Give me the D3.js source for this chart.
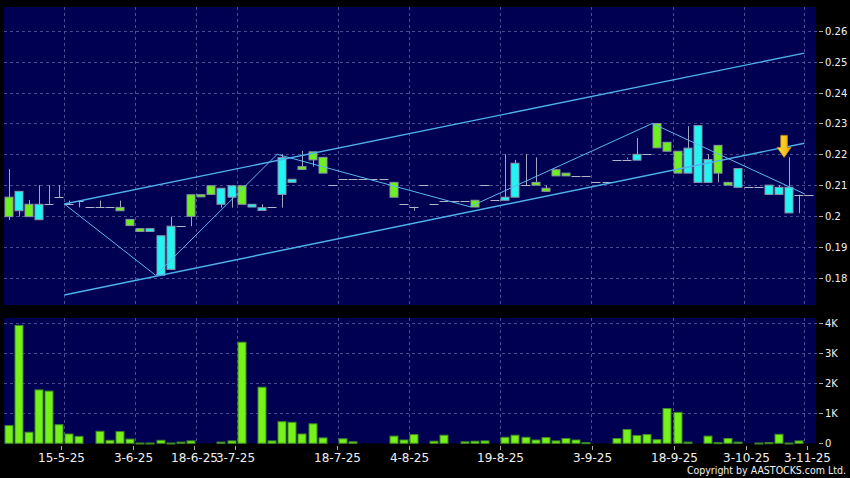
<!DOCTYPE html>
<html><head><meta charset="utf-8">
<script src="https://cdn.jsdelivr.net/npm/d3@7"></script>
<style>body{margin:0;background:#000;overflow:hidden}svg{display:block}</style>
</head><body>
<script>
// ---------------- data ----------------
const tickLabels = ["15-5-25","3-6-25","18-6-25","3-7-25","18-7-25","4-8-25","19-8-25","3-9-25","18-9-25","3-10-25","3-11-25"];
const tickIndex  = [6,13,19,23,33,40,49,58,66,73,79];

const opens = [
.2061,.2017,.2038,.1988,.2039,.2061,.2039,.2050,.2028,.2028,
.2028,.2028,.1989,.1959,.1950,.1808,.1827,.1967,.2069,.2069,
.2098,.2038,.2061,.2098,.2029,.2018,.2029,.2070,.2109,.2160,
.2208,.2190,.2101,.2119,.2119,.2119,.2119,.2119,.2109,.2039,
.2030,.2100,.2039,.2050,.2050,.2050,.2051,.2100,.2052,.2051,
.2061,.2100,.2109,.2090,.2150,.2139,.2130,.2130,.2109,.2109,
.2183,.2183,.2181,.2200,.2300,.2239,.2210,.2139,.2109,.2109,
.2229,.2109,.2093,.2093,.2093,.2070,.2070,.2010,.2069,.2069];
const highs = [
.2152,.2080,.2052,.2100,.2100,.2100,.2050,.2050,.2028,.2050,
.2028,.2050,.1989,.1959,.1959,.1936,.1998,.1967,.2069,.2069,
.2098,.2090,.2098,.2098,.2038,.2038,.2029,.2200,.2119,.2211,
.2208,.2190,.2101,.2119,.2119,.2119,.2119,.2119,.2109,.2039,
.2030,.2100,.2039,.2050,.2050,.2050,.2051,.2100,.2052,.2200,
.2182,.2200,.2190,.2100,.2150,.2139,.2130,.2130,.2109,.2109,
.2183,.2189,.2253,.2200,.2300,.2239,.2210,.2291,.2293,.2200,
.2229,.2109,.2154,.2093,.2093,.2100,.2100,.2190,.2069,.2069];
const lows = [
.1987,.1998,.1998,.1988,.2039,.2061,.2039,.2028,.2028,.2028,
.2028,.2017,.1969,.1950,.1950,.1808,.1827,.1967,.1967,.2062,
.2070,.2027,.2027,.2038,.2029,.2018,.2029,.2027,.2109,.2151,
.2160,.2139,.2101,.2119,.2119,.2119,.2119,.2119,.2061,.2039,
.2017,.2100,.2039,.2050,.2050,.2050,.2029,.2100,.2052,.2051,
.2061,.2100,.2100,.2080,.2130,.2130,.2130,.2130,.2109,.2109,
.2183,.2183,.2181,.2200,.2221,.2210,.2139,.2139,.2109,.2109,
.2109,.2100,.2093,.2093,.2093,.2070,.2070,.2010,.2009,.2069];
const closes = [
.1998,.2080,.1998,.2038,.2039,.2061,.2039,.2050,.2028,.2028,
.2028,.2017,.1969,.1950,.1959,.1936,.1967,.1967,.1999,.2062,
.2070,.2090,.2098,.2038,.2038,.2027,.2029,.2189,.2119,.2151,
.2182,.2139,.2101,.2119,.2119,.2119,.2119,.2119,.2061,.2039,
.2030,.2100,.2039,.2050,.2050,.2050,.2029,.2100,.2052,.2061,
.2171,.2100,.2100,.2080,.2130,.2130,.2130,.2130,.2109,.2109,
.2183,.2183,.2200,.2200,.2221,.2210,.2139,.2220,.2293,.2183,
.2139,.2100,.2154,.2093,.2093,.2100,.2093,.2093,.2069,.2069];
const volumes = [
590,3930,370,1780,1740,620,310,230,0,400,
100,390,140,10,10,100,10,40,80,0,
0,40,80,3370,0,1870,80,720,700,310,
650,180,0,150,50,0,0,0,240,110,
290,0,70,270,0,50,70,80,0,200,
270,200,110,190,80,160,110,20,0,0,
160,460,260,290,120,1160,1030,40,0,240,
20,160,40,0,10,20,300,10,80,0];

const priceTicks = [0.18,0.19,0.2,0.21,0.22,0.23,0.24,0.25,0.26];
const volTicks = [0,1000,2000,3000,4000];
const volTickLabels = ["0","1K","2K","3K","4K"];

const channelUpper = [[6,0.2039],[79,0.2528]];
const channelLower = [[6,0.1744],[79,0.2236]];
const zigzag = [[6,0.2039],[15,0.1808],[27,0.2200],[46,0.2030],[64,0.2300],[79,0.2072]];
const signalIndex = 77, signalPrice = 0.219;
const copyright = "Copyright by AASTOCKS.com Ltd.";

// ---------------- layout ----------------
const W = 850, H = 478;
const panelL = 4, panelR = 816;
const pTop = 7, pBot = 305, vTop = 318, vBot = 443.5;
const GREEN = "#6ef01e", CYAN = "#22f4f4", GRID = "#4b4b92", NAVY = "#000052";
const FONT = "DejaVu Sans, Verdana, sans-serif";

const x = d3.scaleLinear().domain([0, 80]).range([3.5, 814.5]);
const xTick = d3.scaleLinear().domain([0, 80]).range([-0.3, 817.3]);
const bw = 9;
const y = d3.scaleLinear().domain([0.18, 0.26]).range([277.7, 30.9]);
const yv = d3.scaleLinear().domain([0, 4000]).range([443.3, 323.3]);

const svg = d3.select("body").append("svg").attr("width", W).attr("height", H)
  .style("background", "#000");

// panels
svg.append("rect").attr("x", panelL).attr("y", pTop).attr("width", panelR - panelL).attr("height", pBot - pTop).attr("fill", NAVY);
svg.append("rect").attr("x", panelL).attr("y", vTop).attr("width", panelR - panelL).attr("height", vBot - vTop).attr("fill", NAVY);

const grid = svg.append("g").attr("stroke", GRID).attr("stroke-dasharray", "3,3").attr("stroke-width", 1);
priceTicks.forEach(p => {
  const yy = Math.round(y(p)) + 0.5;
  grid.append("line").attr("x1", panelL).attr("x2", panelR + 7).attr("y1", yy).attr("y2", yy);
});
volTicks.forEach(v => {
  const yy = Math.round(yv(v)) + 0.5;
  if (v > 0) grid.append("line").attr("x1", panelL).attr("x2", panelR + 7).attr("y1", yy).attr("y2", yy);
});
tickIndex.forEach(i => {
  const xx = Math.round(x(i)) + 0.5;
  grid.append("line").attr("x1", xx).attr("x2", xx).attr("y1", pTop).attr("y2", pBot);
  grid.append("line").attr("x1", xx).attr("x2", xx).attr("y1", vTop).attr("y2", vBot);
});

const axisG = svg.append("g").attr("font-family", FONT).attr("fill", "#f0f0f0");
priceTicks.forEach(p => {
  const yy = Math.round(y(p)) + 0.5;
  svg.append("line").attr("x1", 819).attr("x2", 823).attr("y1", yy).attr("y2", yy).attr("stroke", "#aaa");
  axisG.append("text").attr("x", 825).attr("y", yy).attr("dy", "0.35em").attr("font-size", 10).text(d3.format("~g")(p));
});
volTicks.forEach((v, k) => {
  const yy = Math.round(yv(v)) + 0.5;
  svg.append("line").attr("x1", 819).attr("x2", 823).attr("y1", yy).attr("y2", yy).attr("stroke", "#aaa");
  axisG.append("text").attr("x", 825).attr("y", yy).attr("dy", "0.35em").attr("font-size", 10).text(volTickLabels[k]);
});
tickIndex.forEach((i, k) => {
  const xx = Math.round(xTick(i)) + 0.5;
  svg.append("line").attr("x1", xx).attr("x2", xx).attr("y1", 446).attr("y2", 450).attr("stroke", "#aaa");
  axisG.append("text").attr("x", xx).attr("y", 462).attr("text-anchor", "middle").attr("font-size", 12).text(tickLabels[k]);
});
axisG.append("text").attr("x", 846).attr("y", 474).attr("text-anchor", "end")
  .attr("font-family", "DejaVu Sans Condensed, DejaVu Sans, sans-serif").attr("font-size", 10.5)
  .text(copyright);

// volume bars
const vg = svg.append("g");
volumes.forEach((v, i) => {
  if (v <= 0) return;
  const top = yv(v), base = yv(0);
  vg.append("rect").attr("x", Math.round(x(i)) + 1).attr("y", top).attr("width", bw - 1)
    .attr("height", Math.max(1, base - top)).attr("fill", "#76f21a").attr("stroke", "#3f8a22").attr("stroke-width", 1);
});

// candles
const cg = svg.append("g");
opens.forEach((o, i) => {
  const c = closes[i], h = highs[i], l = lows[i];
  const xl = Math.round(x(i)) + 1, xm = xl + 4.5;
  cg.append("line").attr("x1", xm).attr("x2", xm).attr("y1", y(h)).attr("y2", y(l)).attr("stroke", "#a4a4bc").attr("stroke-width", 1);
  if (o === c) {
    const yy = Math.round(y(o)) + 0.5;
    cg.append("line").attr("x1", xl - 0.5).attr("x2", xl + bw - 0.5).attr("y1", yy).attr("y2", yy).attr("stroke", "#b4b4c8").attr("stroke-width", 1);
  } else {
    const t = y(Math.max(o, c)), b = y(Math.min(o, c));
    cg.append("rect").attr("x", xl).attr("y", t).attr("width", bw - 1).attr("height", Math.max(1.5, b - t))
      .attr("fill", c > o ? CYAN : GREEN).attr("stroke", "#8a94a4").attr("stroke-width", 1);
  }
});

// trend lines
const line = d3.line().x(d => x(d[0])).y(d => y(d[1]));
svg.append("path").attr("d", line(channelUpper)).attr("fill", "none").attr("stroke", "#4fb0ec").attr("stroke-width", 1.4);
svg.append("path").attr("d", line(channelLower)).attr("fill", "none").attr("stroke", "#4fb0ec").attr("stroke-width", 1.4);
svg.append("path").attr("d", line(zigzag)).attr("fill", "none").attr("stroke", "#5cb8f2").attr("stroke-width", 1);

// signal arrow
const defs = svg.append("defs");
const gr = defs.append("linearGradient").attr("id", "ag").attr("x1", 0).attr("x2", 1).attr("y1", 0).attr("y2", 0);
gr.append("stop").attr("offset", "0%").attr("stop-color", "#ffe24a");
gr.append("stop").attr("offset", "60%").attr("stop-color", "#f8c21a");
gr.append("stop").attr("offset", "100%").attr("stop-color", "#e89a00");
svg.append("path")
  .attr("transform", `translate(${x(signalIndex)},${y(signalPrice)})`)
  .attr("d", "M-3.3,-22 L3.3,-22 L3.3,-10 L7,-10 L0,0 L-7,-10 L-3.3,-10 Z")
  .attr("fill", "url(#ag)").attr("stroke", "#c88a10").attr("stroke-width", 0.8);
</script>
</body></html>
